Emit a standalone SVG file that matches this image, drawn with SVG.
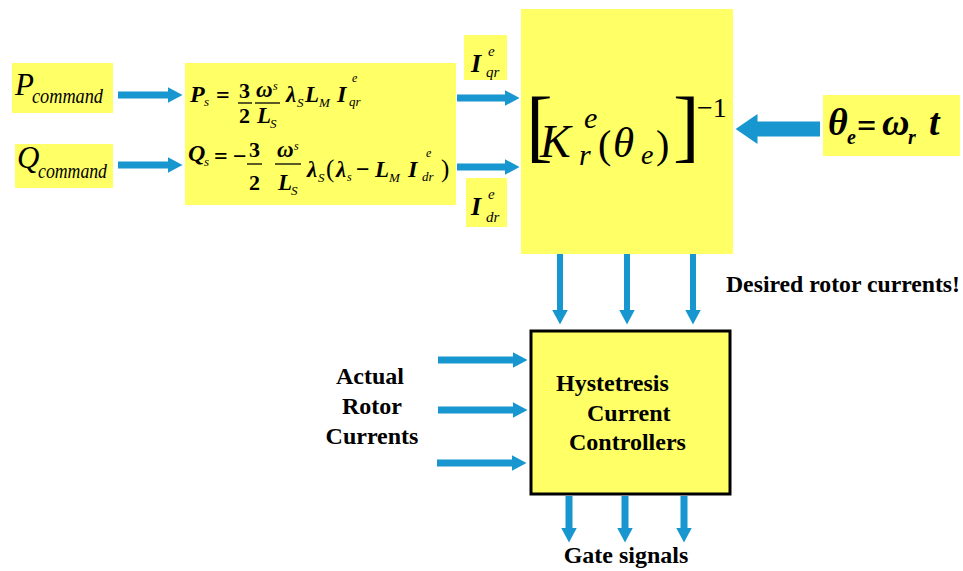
<svg xmlns="http://www.w3.org/2000/svg" width="963" height="571" viewBox="0 0 963 571">
<style>
text{font-family:'Liberation Serif','Times New Roman',serif;fill:#000}
.y{fill:#FFFF66}
.bi{font-weight:bold;font-style:italic}
.i{font-style:italic}
.b{font-weight:bold}
.lab{font-weight:bold;font-size:24px}
</style>
<defs>
<marker id="ah" markerUnits="userSpaceOnUse" markerWidth="15" markerHeight="16" viewBox="0 0 15 16" refX="0.5" refY="8" orient="auto"><path d="M0,0L15,8L0,16z" fill="#1796CF"/></marker>
<marker id="big" markerUnits="userSpaceOnUse" markerWidth="22" markerHeight="30" viewBox="0 0 22 30" refX="0.5" refY="15" orient="auto"><path d="M0,0L22,15L0,30z" fill="#1796CF"/></marker>
</defs>
<rect width="963" height="571" fill="#fff"/>

<g id="p-command">
<rect class="y" x="12" y="63" width="101" height="50"/>
<text class="i" x="15" y="95" font-size="31">P</text>
<text class="i" x="32" y="103" font-size="22" textLength="71" lengthAdjust="spacingAndGlyphs">command</text>
</g>
<g id="q-command">
<rect class="y" x="15" y="144" width="98" height="44"/>
<text class="i" x="17" y="168" font-size="31">Q</text>
<text class="i" x="38" y="178" font-size="22" textLength="69" lengthAdjust="spacingAndGlyphs">command</text>
</g>

<g id="equations">
<rect class="y" x="185" y="63" width="271" height="142"/>
<g stroke="#000" stroke-width="1.3">
<line x1="238" y1="103" x2="252" y2="103"/>
<line x1="255" y1="103" x2="280" y2="103"/>
<line x1="247" y1="164" x2="262" y2="164"/>
<line x1="275" y1="164" x2="301" y2="164"/>
</g>
<text class="bi" x="190" y="102" font-size="24">P</text>
<text class="i" x="204" y="106" font-size="13">s</text>
<text class="b" x="216" y="103" font-size="24">=</text>
<text class="b" x="239" y="98" font-size="22">3</text>
<text class="b" x="239" y="123" font-size="22">2</text>
<text class="bi" x="256" y="97" font-size="23">ω</text>
<text class="i" x="273" y="90" font-size="12">s</text>
<text class="bi" x="257" y="123" font-size="23">L</text>
<text class="i" x="270" y="128" font-size="13">S</text>
<text class="bi" x="286" y="102" font-size="23">λ</text>
<text class="i" x="297" y="107" font-size="13">S</text>
<text class="bi" x="305" y="102" font-size="23">L</text>
<text class="i" x="319" y="107" font-size="13">M</text>
<text class="bi" x="337" y="102" font-size="24">I</text>
<text class="i" x="352" y="82" font-size="12">e</text>
<text class="i" x="349" y="106" font-size="13">qr</text>

<text class="bi" x="188" y="161" font-size="24">Q</text>
<text class="i" x="204" y="166" font-size="13">s</text>
<text class="b" x="214" y="164" font-size="24">=</text>
<text class="b" x="233" y="164" font-size="24">−</text>
<text class="b" x="249" y="157" font-size="22">3</text>
<text class="b" x="249" y="190" font-size="22">2</text>
<text class="bi" x="277" y="157" font-size="23">ω</text>
<text class="i" x="294" y="150" font-size="12">s</text>
<text class="bi" x="278" y="190" font-size="23">L</text>
<text class="i" x="291" y="195" font-size="13">S</text>
<text class="bi" x="307" y="177" font-size="23">λ</text>
<text class="i" x="318" y="182" font-size="13">S</text>
<text x="326" y="177" font-size="25">(</text>
<text class="bi" x="336" y="177" font-size="23">λ</text>
<text class="i" x="347" y="181" font-size="12">s</text>
<text class="b" x="356" y="177" font-size="24">−</text>
<text class="bi" x="375" y="177" font-size="23">L</text>
<text class="i" x="389" y="182" font-size="13">M</text>
<text class="bi" x="408" y="177" font-size="24">I</text>
<text class="i" x="426" y="157" font-size="12">e</text>
<text class="i" x="422" y="181" font-size="13">dr</text>
<text x="441" y="177" font-size="25">)</text>
</g>

<g id="i-qr">
<rect class="y" x="464" y="35" width="43" height="45"/>
<text class="bi" x="471" y="72" font-size="26">I</text>
<text class="i" x="488" y="56" font-size="15">e</text>
<text class="i" x="486" y="77" font-size="15">qr</text>
</g>
<g id="i-dr">
<rect class="y" x="466" y="178" width="41" height="49"/>
<text class="bi" x="471" y="215" font-size="26">I</text>
<text class="i" x="488" y="199" font-size="15">e</text>
<text class="i" x="486" y="222" font-size="15">dr</text>
</g>

<g id="transform">
<rect class="y" x="521" y="9" width="212" height="245"/>
<text x="526" y="152" font-size="80">[</text>
<text class="i" x="540" y="157" font-size="46">K</text>
<text class="i" x="584" y="128" font-size="30">e</text>
<text class="i" x="579" y="165" font-size="30">r</text>
<text x="598" y="158" font-size="40">(</text>
<text class="i" x="613" y="157" font-size="43">θ</text>
<text class="i" x="641" y="164" font-size="28">e</text>
<text x="656" y="158" font-size="40">)</text>
<text x="673" y="152" font-size="80">]</text>
<text x="697" y="117" font-size="28">−1</text>
</g>

<g id="theta">
<rect class="y" x="823" y="95" width="137" height="61"/>
<text class="bi" x="828" y="135" font-size="38">θ</text>
<text class="bi" x="847" y="144" font-size="20">e</text>
<text class="b" x="857" y="137" font-size="34">=</text>
<text class="bi" x="882" y="135" font-size="38">ω</text>
<text class="bi" x="908" y="144" font-size="20">r</text>
<text class="bi" x="929" y="135" font-size="38">t</text>
</g>

<g id="hysteresis">
<rect class="y" x="531" y="331" width="199" height="163" stroke="#000" stroke-width="3"/>
<text class="lab" x="556" y="391" font-size="24.5">Hystetresis</text>
<text class="lab" x="587" y="421">Current</text>
<text class="lab" x="569" y="450">Controllers</text>
</g>

<g id="labels">
<text class="lab" x="726" y="292" textLength="234" lengthAdjust="spacingAndGlyphs">Desired rotor currents!</text>
<text class="lab" x="370" y="384" text-anchor="middle">Actual</text>
<text class="lab" x="372" y="414" text-anchor="middle">Rotor</text>
<text class="lab" x="372" y="444" text-anchor="middle">Currents</text>
<text class="lab" x="626" y="563" text-anchor="middle">Gate signals</text>
</g>

<g id="connectors" stroke="#1796CF" stroke-width="7" fill="none">
<line x1="118" y1="95" x2="168" y2="95" marker-end="url(#ah)"/>
<line x1="118" y1="165" x2="168" y2="165" marker-end="url(#ah)"/>
<line x1="457" y1="98" x2="505" y2="98" marker-end="url(#ah)"/>
<line x1="457" y1="167" x2="505" y2="167" marker-end="url(#ah)"/>
<line x1="820" y1="129" x2="757" y2="129" stroke-width="15" marker-end="url(#big)"/>
<line x1="560" y1="254" x2="560" y2="310" stroke-width="6" marker-end="url(#ah)"/>
<line x1="627" y1="254" x2="627" y2="310" stroke-width="6" marker-end="url(#ah)"/>
<line x1="693" y1="254" x2="693" y2="310" stroke-width="6" marker-end="url(#ah)"/>
<line x1="438" y1="360" x2="513" y2="360" marker-end="url(#ah)"/>
<line x1="438" y1="410" x2="513" y2="410" marker-end="url(#ah)"/>
<line x1="437" y1="463" x2="512" y2="463" marker-end="url(#ah)"/>
<line x1="569" y1="496" x2="569" y2="528" marker-end="url(#ah)"/>
<line x1="625" y1="496" x2="625" y2="528" marker-end="url(#ah)"/>
<line x1="684" y1="496" x2="684" y2="528" marker-end="url(#ah)"/>
</g>
</svg>
